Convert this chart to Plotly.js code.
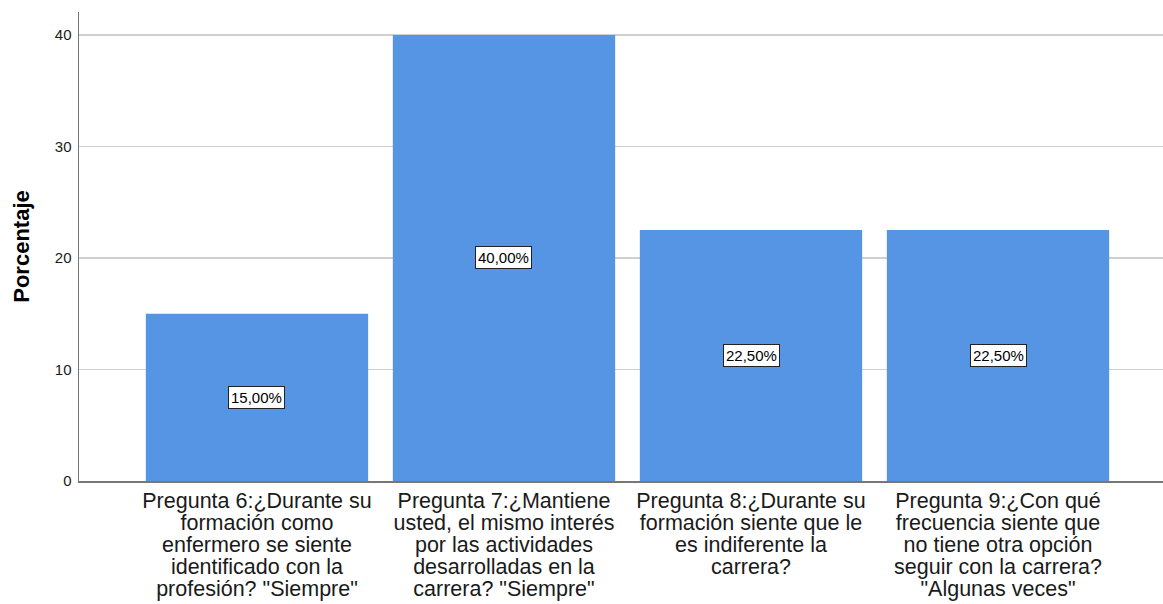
<!DOCTYPE html>
<html><head><meta charset="utf-8">
<script src="https://cdn.plot.ly/plotly-3.0.1.min.js"></script>
<style>html,body{margin:0;padding:0;background:#fff}#chart{width:1163px;height:604px}</style>
</head><body><div id="chart"></div>
<script>
const categories = [
  'Pregunta 6:¿Durante su<br>formación como<br>enfermero se siente<br>identificado con la<br>profesión? "Siempre"',
  'Pregunta 7:¿Mantiene<br>usted, el mismo interés<br>por las actividades<br>desarrolladas en la<br>carrera? "Siempre"',
  'Pregunta 8:¿Durante su<br>formación siente que le<br>es indiferente la<br>carrera?',
  'Pregunta 9:¿Con qué<br>frecuencia siente que<br>no tiene otra opción<br>seguir con la carrera?<br>"Algunas veces"'
];
const values = [15.0, 40.0, 22.5, 22.5];
const yTicks = [0, 10, 20, 30, 40];

const fmt = v => v.toFixed(2).replace('.', ',') + '%';

const trace = {
  type: 'bar',
  x: [0, 1, 2, 3],
  y: values,
  width: 0.9,
  marker: {color: '#5595E3', line: {width: 0}},
  hoverinfo: 'none'
};

const annotations = values.map((v, i) => ({
  x: i, y: v / 2, xref: 'x', yref: 'y',
  text: fmt(v), showarrow: false,
  font: {family: 'Liberation Sans, Arial, sans-serif', size: 15, color: '#000'},
  bgcolor: '#fff', bordercolor: '#222', borderwidth: 1, borderpad: 2
}));

const layout = {
  width: 1163, height: 604,
  margin: {l: 79, r: 0, t: 12, b: 123},
  paper_bgcolor: '#fff', plot_bgcolor: '#fff',
  showlegend: false,
  font: {family: 'Liberation Sans, Arial, sans-serif', color: '#000'},
  xaxis: {
    range: [-0.7206, 3.668],
    tickvals: [0, 1, 2, 3],
    ticktext: categories,
    tickfont: {size: 21.5, color: '#1a1a1a'},
    ticks: '', showgrid: false, zeroline: false,
    showline: true, linecolor: '#777', linewidth: 1.5,
    fixedrange: true
  },
  yaxis: {
    range: [0, 42.06],
    tickvals: yTicks,
    tickfont: {size: 15, color: '#1a1a1a'},
    ticks: '', ticklabelstandoff: 3,
    showgrid: true, gridcolor: '#cfcfcf', gridwidth: 1.5,
    zeroline: false, showline: true, linecolor: '#777', linewidth: 1.5,
    title: {text: '<b>Porcentaje</b>', font: {size: 22, color: '#000'}, standoff: 19},
    fixedrange: true
  },
  annotations: annotations
};

Plotly.newPlot('chart', [trace], layout, {displayModeBar: false, staticPlot: true}).then(gd => {
  // tighten line spacing of multi-line category labels (22px per line)
  gd.querySelectorAll('.xtick text').forEach(t => {
    const y0 = parseFloat(t.getAttribute('y')) || 0;
    const lines = t.querySelectorAll('tspan.line');
    lines.forEach((ln, i) => {
      ln.setAttribute('dy', '0');
      ln.setAttribute('y', (y0 + i * 22).toString());
    });
  });
});
</script></body></html>
